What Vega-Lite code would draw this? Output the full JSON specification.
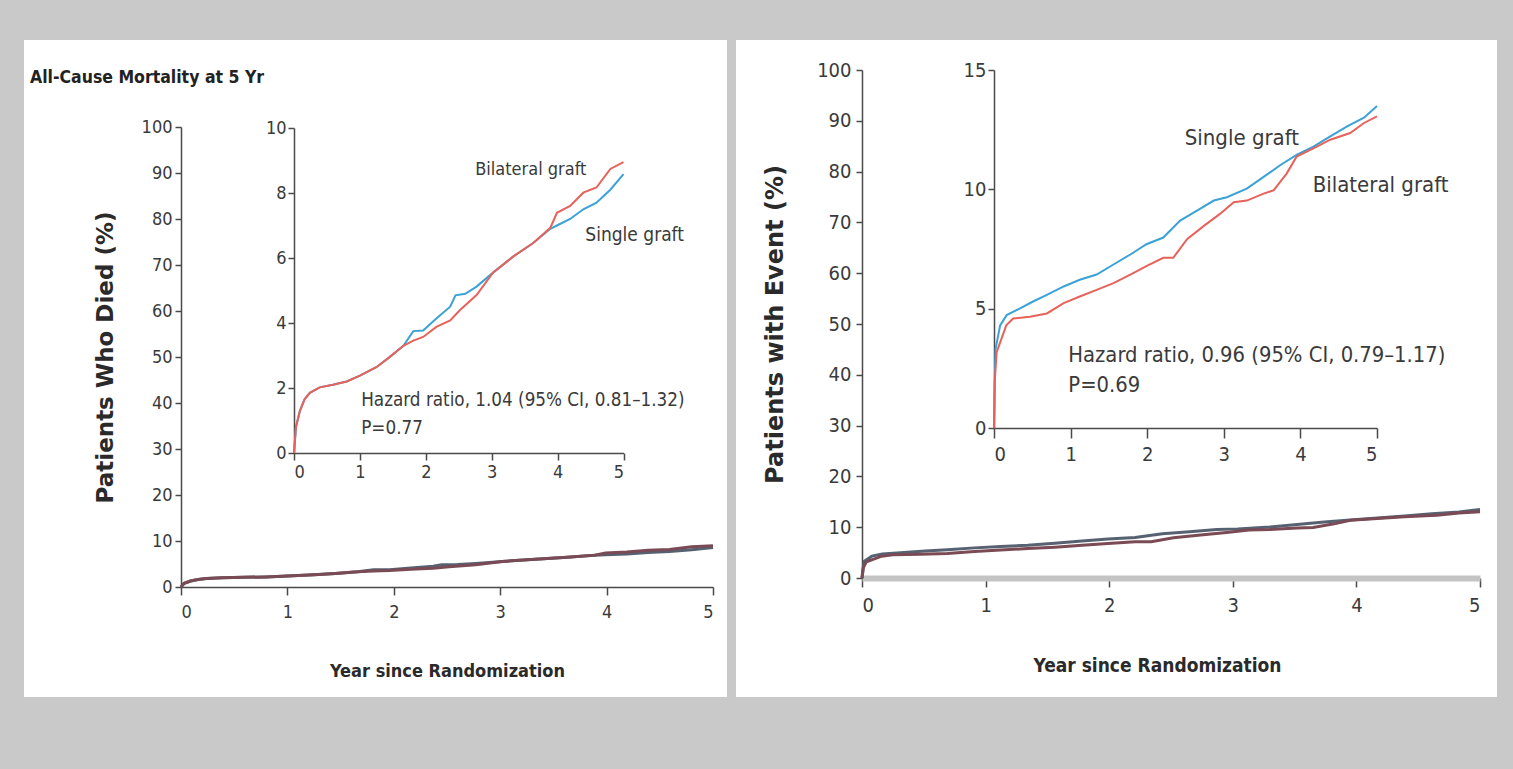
{
  "$schema": "https://vega.github.io/schema/vega-lite/v6.json",
  "background": "#c9c9c9",
  "padding": {"left": 24, "top": 40, "right": 16, "bottom": 72},
  "spacing": 9,
  "config": {
    "view": {"fill": "white", "stroke": null},
    "axis": {
      "grid": false,
      "domainColor": "#4a4a4a",
      "tickColor": "#4a4a4a",
      "domainWidth": 1.5,
      "tickWidth": 1.5,
      "labelColor": "#3a3a3a",
      "labelFont": "Liberation Sans Narrow, DejaVu Sans Condensed, sans-serif",
      "labelFontSize": 18,
      "titleFont": "Liberation Sans Narrow, DejaVu Sans Condensed, sans-serif",
      "titleColor": "#2a2a2a",
      "titleFontWeight": "bold"
    },
    "text": {"font": "Liberation Sans Narrow, DejaVu Sans Condensed, sans-serif", "color": "#3a3a3a"}
  },
  "datasets": {
    "mortality": [
      {"year": 0, "pct": 0, "group": "Single graft"},
      {"year": 0.03, "pct": 0.8, "group": "Single graft"},
      {"year": 0.09, "pct": 1.3, "group": "Single graft"},
      {"year": 0.16, "pct": 1.65, "group": "Single graft"},
      {"year": 0.24, "pct": 1.85, "group": "Single graft"},
      {"year": 0.39, "pct": 2.02, "group": "Single graft"},
      {"year": 0.59, "pct": 2.1, "group": "Single graft"},
      {"year": 0.8, "pct": 2.2, "group": "Single graft"},
      {"year": 1.0, "pct": 2.38, "group": "Single graft"},
      {"year": 1.25, "pct": 2.64, "group": "Single graft"},
      {"year": 1.45, "pct": 2.95, "group": "Single graft"},
      {"year": 1.66, "pct": 3.3, "group": "Single graft"},
      {"year": 1.81, "pct": 3.75, "group": "Single graft"},
      {"year": 1.96, "pct": 3.77, "group": "Single graft"},
      {"year": 2.16, "pct": 4.14, "group": "Single graft"},
      {"year": 2.37, "pct": 4.5, "group": "Single graft"},
      {"year": 2.45, "pct": 4.85, "group": "Single graft"},
      {"year": 2.6, "pct": 4.9, "group": "Single graft"},
      {"year": 2.77, "pct": 5.12, "group": "Single graft"},
      {"year": 3.02, "pct": 5.55, "group": "Single graft"},
      {"year": 3.33, "pct": 6.05, "group": "Single graft"},
      {"year": 3.63, "pct": 6.46, "group": "Single graft"},
      {"year": 3.89, "pct": 6.9, "group": "Single graft"},
      {"year": 3.99, "pct": 7.0, "group": "Single graft"},
      {"year": 4.19, "pct": 7.2, "group": "Single graft"},
      {"year": 4.39, "pct": 7.5, "group": "Single graft"},
      {"year": 4.59, "pct": 7.7, "group": "Single graft"},
      {"year": 4.8, "pct": 8.1, "group": "Single graft"},
      {"year": 5.0, "pct": 8.58, "group": "Single graft"},
      {"year": 0, "pct": 0, "group": "Bilateral graft"},
      {"year": 0.03, "pct": 0.8, "group": "Bilateral graft"},
      {"year": 0.09, "pct": 1.3, "group": "Bilateral graft"},
      {"year": 0.16, "pct": 1.65, "group": "Bilateral graft"},
      {"year": 0.24, "pct": 1.85, "group": "Bilateral graft"},
      {"year": 0.39, "pct": 2.02, "group": "Bilateral graft"},
      {"year": 0.59, "pct": 2.1, "group": "Bilateral graft"},
      {"year": 0.8, "pct": 2.2, "group": "Bilateral graft"},
      {"year": 1.0, "pct": 2.38, "group": "Bilateral graft"},
      {"year": 1.25, "pct": 2.64, "group": "Bilateral graft"},
      {"year": 1.45, "pct": 2.95, "group": "Bilateral graft"},
      {"year": 1.66, "pct": 3.3, "group": "Bilateral graft"},
      {"year": 1.81, "pct": 3.46, "group": "Bilateral graft"},
      {"year": 1.96, "pct": 3.57, "group": "Bilateral graft"},
      {"year": 2.16, "pct": 3.88, "group": "Bilateral graft"},
      {"year": 2.37, "pct": 4.08, "group": "Bilateral graft"},
      {"year": 2.52, "pct": 4.4, "group": "Bilateral graft"},
      {"year": 2.77, "pct": 4.86, "group": "Bilateral graft"},
      {"year": 3.02, "pct": 5.55, "group": "Bilateral graft"},
      {"year": 3.33, "pct": 6.05, "group": "Bilateral graft"},
      {"year": 3.63, "pct": 6.46, "group": "Bilateral graft"},
      {"year": 3.89, "pct": 6.93, "group": "Bilateral graft"},
      {"year": 3.99, "pct": 7.39, "group": "Bilateral graft"},
      {"year": 4.19, "pct": 7.6, "group": "Bilateral graft"},
      {"year": 4.39, "pct": 8.01, "group": "Bilateral graft"},
      {"year": 4.59, "pct": 8.17, "group": "Bilateral graft"},
      {"year": 4.8, "pct": 8.74, "group": "Bilateral graft"},
      {"year": 5.0, "pct": 8.95, "group": "Bilateral graft"}
    ],
    "event": [
      {"year": 0, "pct": 0, "group": "Single graft"},
      {"year": 0.01, "pct": 2.0, "group": "Single graft"},
      {"year": 0.02, "pct": 3.3, "group": "Single graft"},
      {"year": 0.08, "pct": 4.3, "group": "Single graft"},
      {"year": 0.165, "pct": 4.73, "group": "Single graft"},
      {"year": 0.34, "pct": 5.01, "group": "Single graft"},
      {"year": 0.51, "pct": 5.3, "group": "Single graft"},
      {"year": 0.69, "pct": 5.58, "group": "Single graft"},
      {"year": 0.91, "pct": 5.93, "group": "Single graft"},
      {"year": 1.12, "pct": 6.21, "group": "Single graft"},
      {"year": 1.34, "pct": 6.43, "group": "Single graft"},
      {"year": 1.56, "pct": 6.85, "group": "Single graft"},
      {"year": 1.78, "pct": 7.27, "group": "Single graft"},
      {"year": 1.99, "pct": 7.7, "group": "Single graft"},
      {"year": 2.21, "pct": 7.98, "group": "Single graft"},
      {"year": 2.43, "pct": 8.69, "group": "Single graft"},
      {"year": 2.65, "pct": 9.11, "group": "Single graft"},
      {"year": 2.87, "pct": 9.53, "group": "Single graft"},
      {"year": 3.04, "pct": 9.67, "group": "Single graft"},
      {"year": 3.3, "pct": 10.03, "group": "Single graft"},
      {"year": 3.52, "pct": 10.52, "group": "Single graft"},
      {"year": 3.74, "pct": 11.02, "group": "Single graft"},
      {"year": 3.95, "pct": 11.44, "group": "Single graft"},
      {"year": 4.17, "pct": 11.79, "group": "Single graft"},
      {"year": 4.39, "pct": 12.22, "group": "Single graft"},
      {"year": 4.61, "pct": 12.64, "group": "Single graft"},
      {"year": 4.83, "pct": 13.0, "group": "Single graft"},
      {"year": 5.0, "pct": 13.49, "group": "Single graft"},
      {"year": 0, "pct": 0, "group": "Bilateral graft"},
      {"year": 0.01, "pct": 2.0, "group": "Bilateral graft"},
      {"year": 0.035, "pct": 3.18, "group": "Bilateral graft"},
      {"year": 0.16, "pct": 4.3, "group": "Bilateral graft"},
      {"year": 0.25, "pct": 4.59, "group": "Bilateral graft"},
      {"year": 0.47, "pct": 4.66, "group": "Bilateral graft"},
      {"year": 0.69, "pct": 4.8, "group": "Bilateral graft"},
      {"year": 0.91, "pct": 5.23, "group": "Bilateral graft"},
      {"year": 1.12, "pct": 5.51, "group": "Bilateral graft"},
      {"year": 1.34, "pct": 5.79, "group": "Bilateral graft"},
      {"year": 1.56, "pct": 6.07, "group": "Bilateral graft"},
      {"year": 1.78, "pct": 6.43, "group": "Bilateral graft"},
      {"year": 1.99, "pct": 6.78, "group": "Bilateral graft"},
      {"year": 2.21, "pct": 7.13, "group": "Bilateral graft"},
      {"year": 2.34, "pct": 7.13, "group": "Bilateral graft"},
      {"year": 2.52, "pct": 7.91, "group": "Bilateral graft"},
      {"year": 2.74, "pct": 8.47, "group": "Bilateral graft"},
      {"year": 2.95, "pct": 8.97, "group": "Bilateral graft"},
      {"year": 3.13, "pct": 9.46, "group": "Bilateral graft"},
      {"year": 3.3, "pct": 9.53, "group": "Bilateral graft"},
      {"year": 3.52, "pct": 9.82, "group": "Bilateral graft"},
      {"year": 3.65, "pct": 9.96, "group": "Bilateral graft"},
      {"year": 3.82, "pct": 10.66, "group": "Bilateral graft"},
      {"year": 3.95, "pct": 11.37, "group": "Bilateral graft"},
      {"year": 4.17, "pct": 11.72, "group": "Bilateral graft"},
      {"year": 4.39, "pct": 12.08, "group": "Bilateral graft"},
      {"year": 4.65, "pct": 12.36, "group": "Bilateral graft"},
      {"year": 4.83, "pct": 12.78, "group": "Bilateral graft"},
      {"year": 5.0, "pct": 13.06, "group": "Bilateral graft"}
    ]
  },
  "hconcat": [
    {
      "width": 703,
      "height": 657,
      "title": {
        "text": "All-Cause Mortality at 5 Yr",
        "anchor": "start",
        "frame": "group",
        "orient": "top",
        "offset": -55,
        "dx": 6,
        "baseline": "middle",
        "font": "Liberation Sans Narrow, DejaVu Sans Condensed, sans-serif",
        "fontSize": 17.5,
        "fontWeight": "bold",
        "color": "#222"
      },
      "resolve": {"scale": {"x": "independent", "y": "independent", "color": "independent"}},
      "layer": [
        {
          "data": {"name": "mortality"},
          "mark": {"type": "line", "strokeWidth": 3},
          "encoding": {
            "x": {
              "field": "year", "type": "quantitative",
              "scale": {"domain": [0, 5], "range": [157, 689], "nice": false, "zero": false},
              "axis": {"orient": "bottom", "offset": -110, "values": [0, 1, 2, 3, 4, 5], "format": "d",
                       "tickSize": 8, "labelPadding": 8, "title": "Year since Randomization",
                       "titleFontSize": 18, "titleY": 84, "titleBaseline": "middle"}
            },
            "y": {
              "field": "pct", "type": "quantitative",
              "scale": {"domain": [0, 100], "range": [547, 87], "nice": false, "zero": false},
              "axis": {"orient": "left", "offset": -157, "values": [0, 10, 20, 30, 40, 50, 60, 70, 80, 90, 100],
                       "format": "d", "tickSize": 6, "labelPadding": 3,
                       "title": "Patients Who Died (%)", "titleFont": "DejaVu Sans", "titleFontSize": 23,
                       "titleX": -76, "titleBaseline": "middle"}
            },
            "color": {
              "field": "group", "type": "nominal", "legend": null,
              "scale": {"domain": ["Single graft", "Bilateral graft"], "range": ["#566272", "#7a4a55"]}
            }
          }
        },
        {
          "layer": [
            {
              "data": {"name": "mortality"},
              "mark": {"type": "line", "strokeWidth": 2},
              "encoding": {
                "x": {
                  "field": "year", "type": "quantitative",
                  "scale": {"domain": [0, 5], "range": [270, 599.5], "nice": false, "zero": false},
                  "axis": {"orient": "bottom", "offset": -244, "values": [0, 1, 2, 3, 4, 5], "format": "d",
                           "tickSize": 7, "labelPadding": 3, "title": null}
                },
                "y": {
                  "field": "pct", "type": "quantitative",
                  "scale": {"domain": [0, 10], "range": [413, 88], "nice": false, "zero": false},
                  "axis": {"orient": "left", "offset": -270, "values": [0, 2, 4, 6, 8, 10], "format": "d",
                           "tickSize": 6, "labelPadding": 2, "title": null}
                },
                "color": {
                  "field": "group", "type": "nominal", "legend": null,
                  "scale": {"domain": ["Single graft", "Bilateral graft"], "range": ["#3aa2d6", "#e6625a"]}
                }
              }
            },
            {
              "data": {"values": [{"label": "Bilateral graft"}]},
              "mark": {"type": "text", "align": "left", "baseline": "middle", "fontSize": 18},
              "encoding": {"x": {"datum": 2.75, "type": "quantitative"}, "y": {"datum": 8.71, "type": "quantitative"}, "text": {"field": "label"}}
            },
            {
              "data": {"values": [{"label": "Single graft"}]},
              "mark": {"type": "text", "align": "left", "baseline": "middle", "fontSize": 19},
              "encoding": {"x": {"datum": 4.42, "type": "quantitative"}, "y": {"datum": 6.71, "type": "quantitative"}, "text": {"field": "label"}}
            },
            {
              "data": {"values": [{"label": "Hazard ratio, 1.04 (95% CI, 0.81–1.32)"}]},
              "mark": {"type": "text", "align": "left", "baseline": "middle", "fontSize": 18.7},
              "encoding": {"x": {"datum": 1.02, "type": "quantitative"}, "y": {"datum": 1.63, "type": "quantitative"}, "text": {"field": "label"}}
            },
            {
              "data": {"values": [{"label": "P=0.77"}]},
              "mark": {"type": "text", "align": "left", "baseline": "middle", "fontSize": 18.7},
              "encoding": {"x": {"datum": 1.02, "type": "quantitative"}, "y": {"datum": 0.77, "type": "quantitative"}, "text": {"field": "label"}}
            }
          ]
        }
      ]
    },
    {
      "width": 761,
      "height": 657,
      "resolve": {"scale": {"x": "independent", "y": "independent", "color": "independent"}},
      "layer": [
        {
          "data": {"name": "event"},
          "mark": {"type": "line", "strokeWidth": 3},
          "encoding": {
            "x": {
              "field": "year", "type": "quantitative",
              "scale": {"domain": [0, 5], "range": [126, 744], "nice": false, "zero": false},
              "axis": {"orient": "bottom", "offset": -119, "values": [0, 1, 2, 3, 4, 5], "format": "d",
                       "tickSize": 9, "labelPadding": 8, "labelFontSize": 20,
                       "domainColor": "#c4c4c4", "domainWidth": 6,
                       "title": "Year since Randomization",
                       "titleFontSize": 19, "titleX": 421, "titleY": 87, "titleBaseline": "middle"}
            },
            "y": {
              "field": "pct", "type": "quantitative",
              "scale": {"domain": [0, 100], "range": [538, 30], "nice": false, "zero": false},
              "axis": {"orient": "left", "offset": -126, "values": [0, 10, 20, 30, 40, 50, 60, 70, 80, 90, 100],
                       "format": "d", "tickSize": 6, "labelPadding": 5, "labelFontSize": 20,
                       "title": "Patients with Event (%)", "titleFont": "DejaVu Sans", "titleFontSize": 24,
                       "titleX": -87, "titleBaseline": "middle"}
            },
            "color": {
              "field": "group", "type": "nominal", "legend": null,
              "scale": {"domain": ["Single graft", "Bilateral graft"], "range": ["#566272", "#7a4a55"]}
            }
          }
        },
        {
          "layer": [
            {
              "data": {"name": "event"},
              "mark": {"type": "line", "strokeWidth": 2},
              "encoding": {
                "x": {
                  "field": "year", "type": "quantitative",
                  "scale": {"domain": [0, 5], "range": [258, 641], "nice": false, "zero": false},
                  "axis": {"orient": "bottom", "offset": -269, "values": [0, 1, 2, 3, 4, 5], "format": "d",
                           "tickSize": 10, "labelPadding": 6, "labelFontSize": 20, "title": null}
                },
                "y": {
                  "field": "pct", "type": "quantitative",
                  "scale": {"domain": [0, 15], "range": [388, 30], "nice": false, "zero": false},
                  "axis": {"orient": "left", "offset": -258, "values": [0, 5, 10, 15], "format": "d",
                           "tickSize": 6, "labelPadding": 2, "labelFontSize": 20, "title": null}
                },
                "color": {
                  "field": "group", "type": "nominal", "legend": null,
                  "scale": {"domain": ["Single graft", "Bilateral graft"], "range": ["#3aa2d6", "#e6625a"]}
                }
              }
            },
            {
              "data": {"values": [{"label": "Single graft"}]},
              "mark": {"type": "text", "align": "left", "baseline": "middle", "fontSize": 22},
              "encoding": {"x": {"datum": 2.49, "type": "quantitative"}, "y": {"datum": 12.15, "type": "quantitative"}, "text": {"field": "label"}}
            },
            {
              "data": {"values": [{"label": "Bilateral graft"}]},
              "mark": {"type": "text", "align": "left", "baseline": "middle", "fontSize": 22},
              "encoding": {"x": {"datum": 4.16, "type": "quantitative"}, "y": {"datum": 10.18, "type": "quantitative"}, "text": {"field": "label"}}
            },
            {
              "data": {"values": [{"label": "Hazard ratio, 0.96 (95% CI, 0.79–1.17)"}]},
              "mark": {"type": "text", "align": "left", "baseline": "middle", "fontSize": 21.8},
              "encoding": {"x": {"datum": 0.97, "type": "quantitative"}, "y": {"datum": 3.06, "type": "quantitative"}, "text": {"field": "label"}}
            },
            {
              "data": {"values": [{"label": "P=0.69"}]},
              "mark": {"type": "text", "align": "left", "baseline": "middle", "fontSize": 21.8},
              "encoding": {"x": {"datum": 0.97, "type": "quantitative"}, "y": {"datum": 1.8, "type": "quantitative"}, "text": {"field": "label"}}
            }
          ]
        }
      ]
    }
  ]
}
